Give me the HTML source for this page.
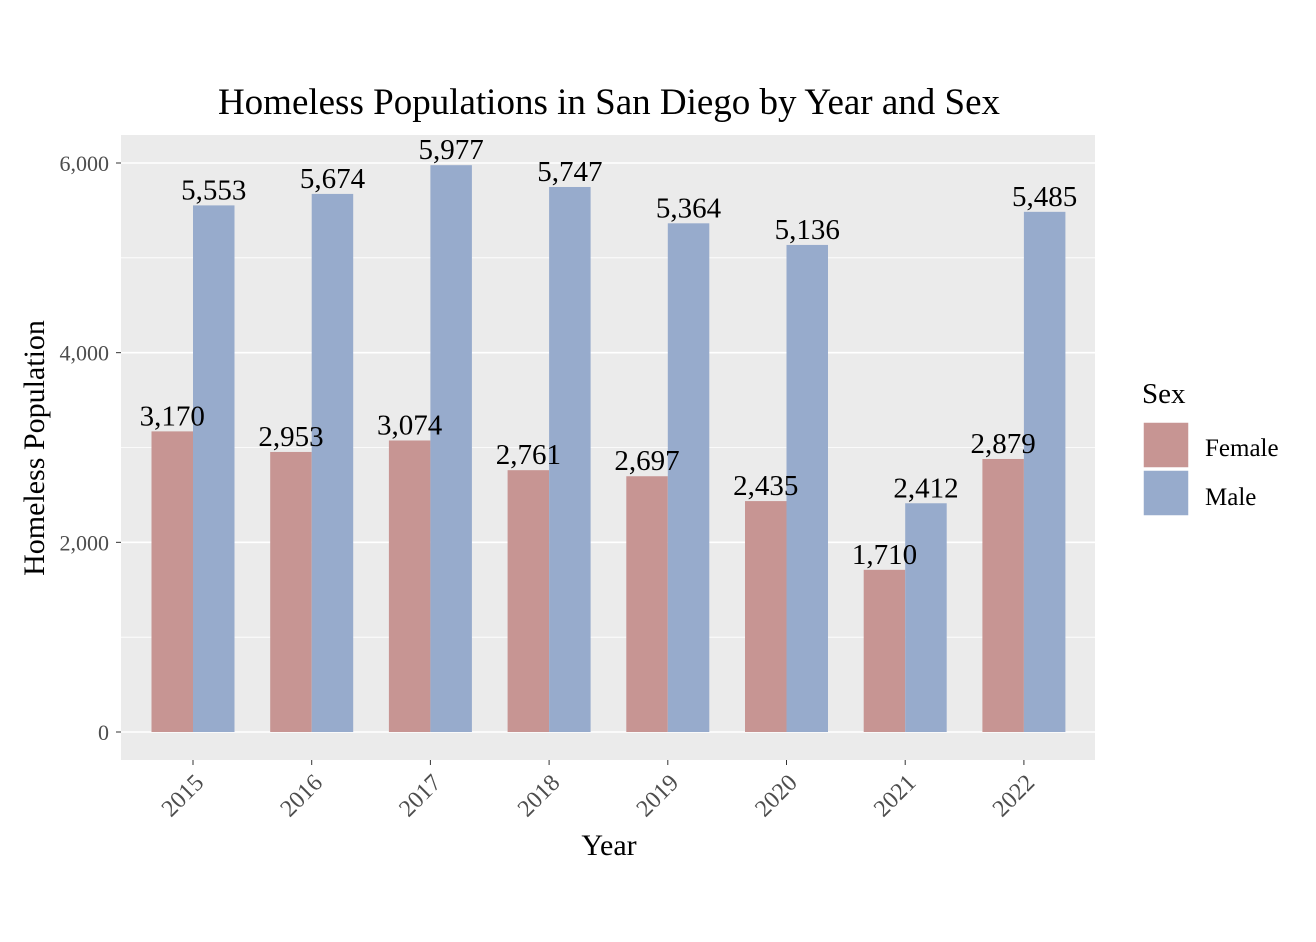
<!DOCTYPE html>
<html>
<head>
<meta charset="utf-8">
<style>
html,body{margin:0;padding:0;background:#fff;}
svg{display:block;font-family:"Liberation Serif",serif;}
</style>
</head>
<body>
<svg id="chart" width="1316" height="942" viewBox="0 0 1316 942" xmlns="http://www.w3.org/2000/svg">
  <rect width="1316" height="942" fill="#fff"/>
  <text x="609" y="114" font-size="37" text-anchor="middle" fill="#000">Homeless Populations in San Diego by Year and Sex</text>
  <rect x="121" y="135" width="974" height="625" fill="#ebebeb"/>
  <g id="grid"></g>
  <g id="bars"></g>
  <g id="labels"></g>
  <g id="yaxis"></g>
  <g id="xaxis"></g>
  <text x="609" y="855" font-size="30" text-anchor="middle">Year</text>
  <text transform="translate(44,448) rotate(-90)" font-size="30" text-anchor="middle">Homeless Population</text>
  <g>
    <text x="1142" y="403" font-size="29">Sex</text>
    <rect x="1143" y="422" width="46" height="46" fill="#c79593" stroke="#fff" stroke-width="1.5"/>
    <rect x="1143" y="470" width="46" height="46" fill="#97abcc" stroke="#fff" stroke-width="1.5"/>
    <text x="1205" y="456" font-size="25">Female</text>
    <text x="1205" y="505" font-size="25">Male</text>
  </g>
</svg>
<script>
const years = ["2015","2016","2017","2018","2019","2020","2021","2022"];
const female = [3170,2953,3074,2761,2697,2435,1710,2879];
const male = [5553,5674,5977,5747,5364,5136,2412,5485];
const yTicks = [0,2000,4000,6000];
const yMinor = [1000,3000,5000];

const NS="http://www.w3.org/2000/svg";
const y0=732, pxPer=(732-163)/6000;
const yScale=v=>y0-v*pxPer;
const step=118.7, x0=193;
const xScale=i=>x0+i*step;
const barW=41.5;
function mk(tag,attrs,parent){const e=document.createElementNS(NS,tag);for(const k in attrs)e.setAttribute(k,attrs[k]);parent.appendChild(e);return e;}
const grid=document.getElementById('grid'),bars=document.getElementById('bars'),labels=document.getElementById('labels'),ya=document.getElementById('yaxis'),xa=document.getElementById('xaxis');
const fmt=v=>v.toLocaleString('en-US');

yMinor.forEach(v=>{const l=mk('line',{x1:121,x2:1095,y1:yScale(v),y2:yScale(v),stroke:'#fff','stroke-width':0.8},grid);

});
yTicks.forEach(v=>{const l=mk('line',{x1:121,x2:1095,y1:yScale(v),y2:yScale(v),stroke:'#fff','stroke-width':1.6},grid);


const t=mk('line',{x1:116,x2:121,y1:yScale(v),y2:yScale(v),stroke:'#333','stroke-width':1},ya);


const tx=mk('text',{x:109,y:yScale(v)+8,'font-size':22,'text-anchor':'end',fill:'#4d4d4d'},ya);tx.textContent=fmt(v);

});
years.forEach((yr,i)=>{const cx=xScale(i);
const bf=mk('rect',{x:cx-barW,y:yScale(female[i]),width:barW,height:y0-yScale(female[i]),fill:'#c79593'},bars);


const bm=mk('rect',{x:cx,y:yScale(male[i]),width:barW,height:y0-yScale(male[i]),fill:'#97abcc'},bars);


const lf=mk('text',{x:cx-barW/2,y:yScale(female[i])-6,'font-size':29,'text-anchor':'middle'},labels);lf.textContent=fmt(female[i]);


const lm=mk('text',{x:cx+barW/2,y:yScale(male[i])-6,'font-size':29,'text-anchor':'middle'},labels);lm.textContent=fmt(male[i]);


const tk=mk('line',{x1:cx,x2:cx,y1:760,y2:765,stroke:'#333','stroke-width':1},xa);


const tl=mk('text',{transform:`translate(${cx+12},${784}) rotate(-45)`,'font-size':24,'text-anchor':'end',fill:'#4d4d4d'},xa);tl.textContent=yr;

});
</script>
</body>
</html>
